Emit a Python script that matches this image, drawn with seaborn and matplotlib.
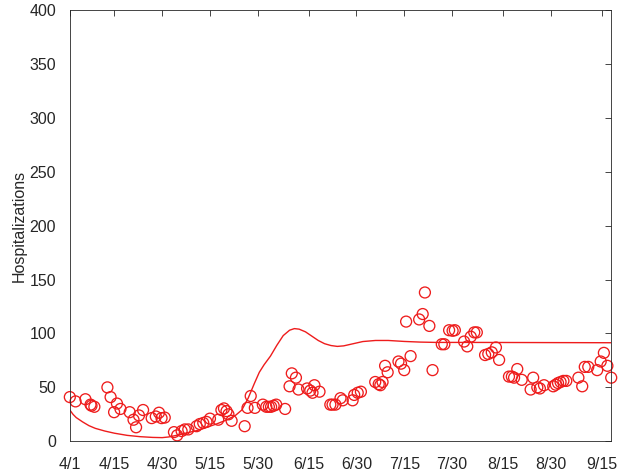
import numpy as np
import matplotlib
matplotlib.use("Agg")
import matplotlib.pyplot as plt
import seaborn as sns

obs_day = [0, 1.8, 4.9, 6.5, 6.8, 7.7, 11.8, 12.8, 13.9, 14.8, 15.9, 18.8, 20, 20.8,
           21.7, 23, 25.7, 27, 28, 28.8, 29.8, 32.7, 33.7, 35.1, 36.1, 37.2,
           39.8, 40.8, 41.9, 42.9, 44, 46.6, 47.6, 48.4, 49.2, 49.8, 50.8,
           54.9, 55.8, 56.8, 58.1, 60.6, 61.7, 62.5, 63.2, 64, 64.8, 67.6,
           69, 69.7, 71, 71.8, 74.5, 75.5, 76.2, 76.8, 78.4, 81.8, 82.5, 83.4,
           85, 85.7, 88.8, 89.3, 90.4, 91.4, 95.9, 97, 97.5, 98.2, 99, 99.8,
           103.2, 104, 105, 105.6, 107, 109.7, 110.8, 111.5, 112.9, 113.9,
           116.8, 117.6, 119.1, 120.2, 120.9, 123.8, 124.8, 125.9, 127, 127.8,
           130.4, 131.4, 132.5, 133.8, 134.8, 137.9, 138.8, 139.5, 140.5, 141.9,
           144.7, 145.5, 146.8, 147.6, 148.9, 151.8, 152.6, 153.3, 154.1, 155,
           155.9, 159.7, 160.9, 161.7, 162.8, 165.6, 166.7, 167.7, 168.8, 170]
obs_val = [41, 37, 39, 34, 33, 32, 50, 41, 27, 35, 30, 27, 20, 13,
           24, 29, 21.5, 23, 26.5, 21.5, 22, 8.5, 5.5, 9.5, 11, 11,
           14, 16, 17, 18, 21, 20, 29, 30.5, 28, 25, 19,
           14, 31, 42, 31, 34, 32, 32, 32, 33, 34, 30,
           51, 63, 59, 48, 49, 47, 45, 52, 46, 34, 34, 34,
           40, 38, 38, 43, 45, 46, 55, 53, 52, 55, 70, 64,
           74, 72, 66, 111, 79, 113, 118, 138, 107, 66,
           90, 90, 103, 102.5, 103, 92.5, 88, 97, 101, 101,
           80, 81, 82.5, 87, 75.5, 60, 60, 59, 67, 57,
           48, 59, 50, 49, 52, 51, 52.5, 54, 55, 56,
           56, 59, 51, 69, 69, 66, 74, 82, 70, 59]

# model curve knots
model_day = [0, 1, 2, 4, 6, 8, 11, 14, 18, 22, 26, 29, 31, 34, 37, 40, 43, 46,
             49, 52, 54, 56, 58, 59.5, 61, 63, 65, 67, 69, 70.5, 72, 74, 76,
             78, 80, 82, 84, 86, 89, 92, 96, 100, 105, 110, 115, 125, 140,
             155, 170]
model_val = [29, 25, 22, 18, 14.5, 12, 9.5, 7.5, 5.5, 4.3, 3.6, 3.4, 4, 5.8,
             8, 10, 13, 16, 19.5, 24, 29, 40, 54, 64, 71, 79, 89, 98, 103,
             104.5, 104, 101.5, 97.5, 93.5, 90.5, 88.8, 88, 88.5, 90.5, 92.5,
             93.5, 93.5, 92.6, 92, 91.7, 91.7, 91.6, 91.5, 91.4]

tick_days = [0, 14, 29, 44, 59, 75, 90, 105, 120, 136, 151, 167]
tick_labels = ['4/1', '4/15', '4/30', '5/15', '5/30', '6/15', '6/30',
               '7/15', '7/30', '8/15', '8/30', '9/15']

sns.set_style('white')
plt.rcParams['font.family'] = ['Liberation Sans', 'DejaVu Sans']

red = '#ee1c1c'
grey = '#262626'

fig, ax = plt.subplots(figsize=(6.18, 4.74), dpi=100)
fig.subplots_adjust(left=0.113, right=0.989, bottom=0.069, top=0.979)

sns.lineplot(x=model_day, y=model_val, color=red, linewidth=1.0,
             sort=False, errorbar=None, ax=ax)
sns.scatterplot(x=obs_day, y=obs_val, marker='o', s=62, facecolor='none',
                edgecolor=red, linewidth=0.95, clip_on=False, ax=ax)

ax.set_xlim(0, 170)
ax.set_ylim(0, 400)
ax.set_xticks(tick_days)
ax.set_xticklabels(tick_labels)
ax.set_yticks(np.arange(0, 401, 50))
ax.set_ylabel('Hospitalizations', fontsize=11.5, color=grey, labelpad=2)
ax.tick_params(direction='in', length=4, width=0.6, top=True, right=True,
               labelsize=11.5, colors=grey)
ax.tick_params(axis='x', pad=11)
ax.tick_params(axis='y', pad=10)
for sp in ax.spines.values():
    sp.set_color(grey)
    sp.set_linewidth(0.6)

fig.savefig('out.png', dpi=100)
